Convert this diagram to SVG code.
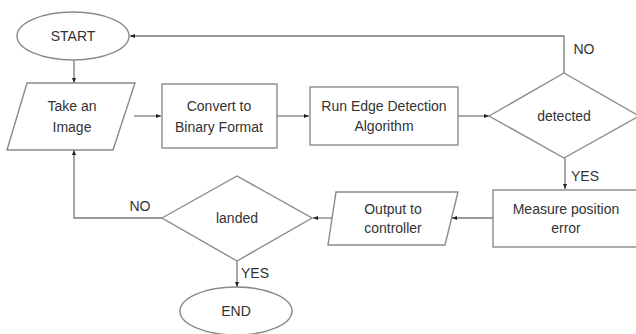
<svg xmlns="http://www.w3.org/2000/svg" width="636" height="334" viewBox="0 0 636 334">
<defs>
<marker id="ah" viewBox="0 0 10 10" refX="10" refY="5" markerWidth="5" markerHeight="5" orient="auto-start-reverse" markerUnits="userSpaceOnUse">
<path d="M0,1 L10,5 L0,9 z" fill="#222"/>
</marker>
<style>
.s{fill:#fff;stroke:#8a8a8a;stroke-width:1.4}
.c{fill:none;stroke:#7a7a7a;stroke-width:1.3}
.t{font-family:"Liberation Sans",Arial,sans-serif;font-size:14px;fill:#333;text-anchor:middle;dominant-baseline:central}
</style>
</defs>
<rect width="636" height="334" fill="#fff"/>
<g id="connectors">
<path class="c" d="M74,60 L74,83" marker-end="url(#ah)"/>
<path class="c" d="M134,116 L161,116" marker-end="url(#ah)"/>
<path class="c" d="M277,116 L309,116" marker-end="url(#ah)"/>
<path class="c" d="M458,116 L489,116" marker-end="url(#ah)"/>
<path class="c" d="M564,73 L564,36 L130,36" marker-end="url(#ah)"/>
<path class="c" d="M565,158 L565,189" marker-end="url(#ah)"/>
<path class="c" d="M493,218 L452,218" marker-end="url(#ah)"/>
<path class="c" d="M332,218 L313,218" marker-end="url(#ah)"/>
<path class="c" d="M162,218 L74,218 L74,150" marker-end="url(#ah)"/>
<path class="c" d="M237,261 L237,287" marker-end="url(#ah)"/>
<text class="t" x="584" y="49">NO</text>
<text class="t" x="585" y="176">YES</text>
<text class="t" x="140" y="206">NO</text>
<text class="t" x="255" y="273">YES</text>
</g>
<g id="start">
<ellipse class="s" cx="73" cy="36" rx="56" ry="24"/>
<text class="t" x="73" y="36">START</text>
</g>
<g id="take-image">
<polygon class="s" points="27,83 135,83 113,150 7,150"/>
<text class="t" x="72" y="106">Take an</text>
<text class="t" x="72" y="127">Image</text>
</g>
<g id="convert">
<rect class="s" x="162" y="84" width="115" height="64"/>
<text class="t" x="219" y="106">Convert to</text>
<text class="t" x="219" y="127">Binary Format</text>
</g>
<g id="edge">
<rect class="s" x="310" y="87" width="148" height="58"/>
<text class="t" x="384" y="106">Run Edge Detection</text>
<text class="t" x="384" y="126">Algorithm</text>
</g>
<g id="detected">
<polygon class="s" points="489,116 564,73 639,116 564,158"/>
<text class="t" x="564" y="116">detected</text>
</g>
<g id="measure">
<rect class="s" x="493" y="190" width="150" height="57"/>
<text class="t" x="566" y="209">Measure position</text>
<text class="t" x="566" y="228">error</text>
</g>
<g id="output">
<polygon class="s" points="336,192 458,192 445,245 328,245"/>
<text class="t" x="393" y="209">Output to</text>
<text class="t" x="393" y="228">controller</text>
</g>
<g id="landed">
<polygon class="s" points="162,218 237,176 312,218 237,261"/>
<text class="t" x="237" y="218">landed</text>
</g>
<g id="end">
<ellipse class="s" cx="236" cy="311" rx="56" ry="24"/>
<text class="t" x="236" y="311">END</text>
</g>
</svg>
